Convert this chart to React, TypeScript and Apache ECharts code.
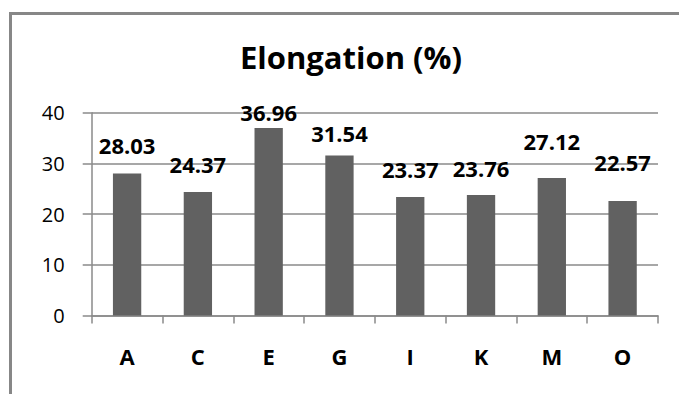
import React, { useEffect, useRef } from "react";
import * as echarts from "echarts";

// Sample codes on the category axis
const categories = ["A", "C", "E", "G", "I", "K", "M", "O"];
// Elongation at break, in percent
const elongation = [28.03, 24.37, 36.96, 31.54, 23.37, 23.76, 27.12, 22.57];
// Value axis ticks
const yMin = 0;
const yMax = 40;
const yStep = 10;

// How far each value label sits above its bar (px)
const labelLift = [17, 17, 5, 12, 17, 16, 26, 28];

const FONT = "'Open Sans', 'DejaVu Sans', sans-serif";
const GRID_GRAY = "#8a8a8a";

export default function App() {
  const ref = useRef<HTMLDivElement>(null);

  useEffect(() => {
    if (!ref.current) return;
    const chart = echarts.init(ref.current, undefined, { renderer: "svg" });

    chart.setOption({
      animation: false,
      backgroundColor: "#ffffff",
      title: {
        text: "Elongation (%)",
        left: 346,
        top: 36,
        textAlign: "center",
        textStyle: {
          fontFamily: FONT,
          fontWeight: "bold",
          fontSize: 31,
          color: "#000000",
        },
      },
      graphic: [
        {
          type: "rect",
          shape: { x: 10.5, y: 13.5, width: 720, height: 420 },
          style: { fill: "none", stroke: "#878787", lineWidth: 3 },
          silent: true,
          z: 100,
        },
      ],
      grid: {
        left: 91.7,
        right: 21,
        top: 112.7,
        bottom: 78.5,
        containLabel: false,
      },
      xAxis: {
        type: "category",
        data: categories,
        boundaryGap: true,
        axisLine: { show: true, lineStyle: { color: GRID_GRAY, width: 1.5 } },
        axisTick: {
          show: true,
          alignWithLabel: false,
          length: 8,
          lineStyle: { color: GRID_GRAY, width: 1.5 },
        },
        axisLabel: {
          margin: 29,
          fontFamily: FONT,
          fontWeight: "bold",
          fontSize: 22,
          color: "#000000",
        },
      },
      yAxis: {
        type: "value",
        min: yMin,
        max: yMax,
        interval: yStep,
        axisLine: { show: true, lineStyle: { color: GRID_GRAY, width: 1.5 } },
        axisTick: {
          show: true,
          length: 9,
          lineStyle: { color: GRID_GRAY, width: 1.5 },
        },
        splitLine: { show: true, lineStyle: { color: GRID_GRAY, width: 1.5 } },
        axisLabel: {
          margin: 27,
          fontFamily: FONT,
          fontSize: 20,
          color: "#000000",
        },
      },
      series: [
        {
          type: "bar",
          data: elongation.map((v, i) => ({
            value: v,
            label: { distance: labelLift[i] },
          })),
          barWidth: "40%",
          itemStyle: { color: "#616161" },
          label: {
            show: true,
            position: "top",
            fontFamily: FONT,
            fontWeight: "bold",
            fontSize: 22,
            color: "#000000",
            formatter: (p: any) => p.value.toFixed(2),
          },
        },
      ],
    });

    return () => chart.dispose();
  }, []);

  return (
    <div
      ref={ref}
      style={{ position: "fixed", left: 0, top: 0, width: 679, height: 394 }}
    />
  );
}
